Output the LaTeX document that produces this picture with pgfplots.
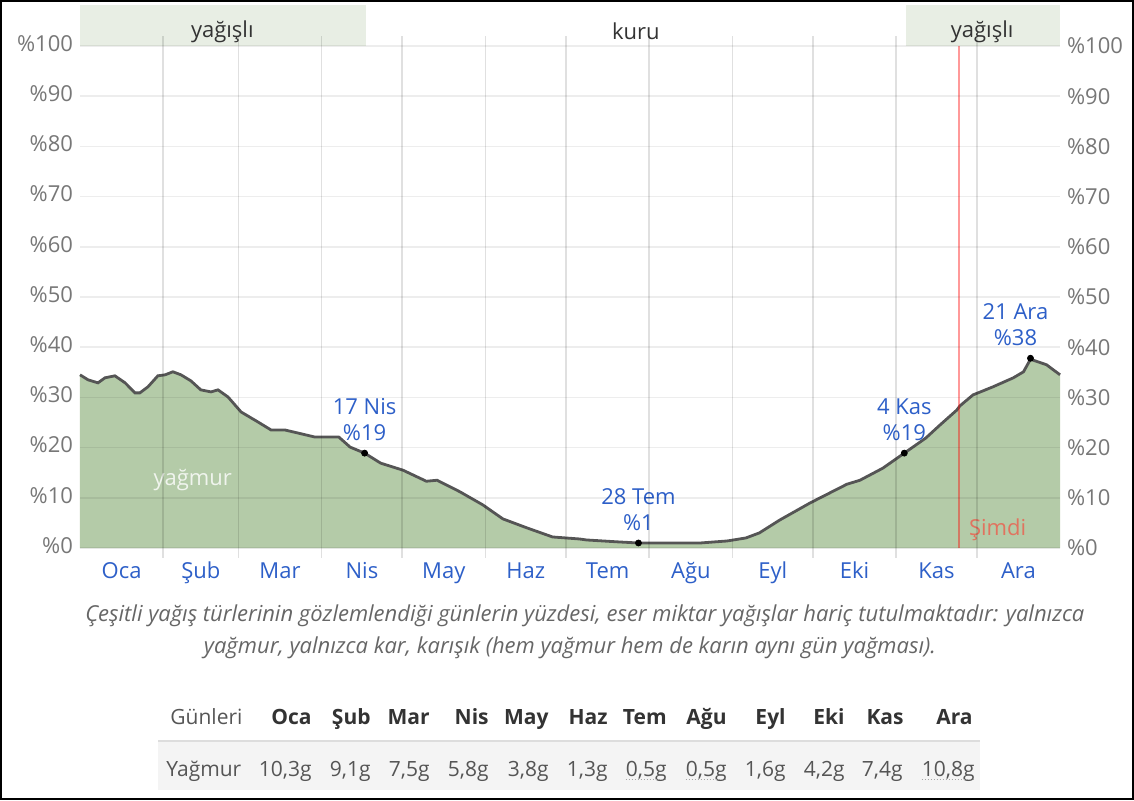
\documentclass[border=0pt]{standalone}
\usepackage{pgfplots}
\pgfplotsset{compat=1.18}
\usepackage{pgfplotstable}
\usepackage{fontspec}
\setmainfont{Open Sans}
\definecolor{tickgray}{RGB}{119,119,119}
\definecolor{monthblue}{RGB}{45,95,200}
\definecolor{areagreen}{RGB}{180,203,168}
\definecolor{bandgreen}{RGB}{232,238,228}
\definecolor{linegray}{RGB}{85,85,85}
\definecolor{nowred}{RGB}{225,115,95}
\definecolor{txtdark}{RGB}{51,51,51}
\definecolor{txtmid}{RGB}{85,85,85}
\definecolor{capgray}{RGB}{102,102,102}
\definecolor{rowgray}{RGB}{244,244,244}
\definecolor{sepgray}{RGB}{221,221,221}

\pgfplotstableread{
day val
0 34.5
3 33.5
6.7 32.9
9.3 33.9
13 34.3
16.8 32.9
20.5 30.9
22.3 30.9
25.3 32.1
29 34.3
31.7 34.5
34.6 35.1
37.6 34.5
41.3 33.3
45 31.5
48.8 31.1
51.4 31.5
55.1 30.1
60 27.1
66.3 25.1
71.2 23.5
76.4 23.5
81.2 22.9
87.5 22.1
91.6 22.1
96.4 22.1
100.6 20.1
106 18.9
112 16.9
120.3 15.5
129 13.3
133 13.5
141.5 11.2
150 8.6
157.5 5.8
166.5 4.0
176 2.2
186 1.8
188.7 1.6
201 1.2
208 1.0
226 1.0
231 1.0
241 1.4
248 2.0
253 3.0
260.7 5.6
272 9.0
285.6 12.7
290.5 13.5
299 15.9
307 18.9
315 21.9
320.3 24.5
326.6 27.5
327.7 28.3
332.6 30.5
340 32.1
347.6 33.9
351.4 35.1
354 37.6
360 36.5
365 34.5
}\raindata

\begin{document}
\begin{tikzpicture}[x=1pt,y=1pt]
\path (0,0) rectangle (567,400);
\draw[line width=1pt] (0.5,0.5) rectangle (566.5,399.5);

\begin{axis}[
  at={(40pt,126pt)}, anchor=south west, scale only axis,
  width=490pt, height=251pt,
  xmin=0, xmax=365, ymin=0, ymax=100,
  clip=false, axis on top,
  axis line style={draw=none},
  xtick={15.5,45,74.5,105,135.5,166,196.5,227.5,258,288.5,319,349.5},
  xticklabels={Oca,Şub,Mar,Nis,May,Haz,Tem,Ağu,Eyl,Eki,Kas,Ara},
  minor xtick={31,59,90,120,151,181,212,243,273,304,334},
  ytick={0,10,...,100},
  yticklabels={\%0,\%10,\%20,\%30,\%40,\%50,\%60,\%70,\%80,\%90,\%100},
  xmajorgrids=false, xminorgrids=true, ymajorgrids=true,
  typeset ticklabels with strut,
  major tick length=0pt, minor tick length=5pt, tick align=outside,
  minor tick style={black,opacity=0.12,line width=0.75pt},
  minor grid style={black,opacity=0.12,line width=0.75pt},
  major grid style={black,opacity=0.07,line width=0.75pt},
  xticklabel style={monthblue,font=\fontsize{11}{13}\selectfont,yshift=-2.5pt},
  yticklabel style={tickgray,font=\fontsize{11}{13}\selectfont},
]
\fill[bandgreen] (axis cs:0,100) rectangle (axis cs:106.7,108.2);
\fill[bandgreen] (axis cs:307.6,100) rectangle (axis cs:365,108.2);
\node[txtdark,font=\fontsize{11}{13}\selectfont] at (axis cs:53,102.9) {yağışlı};
\node[txtdark,font=\fontsize{11}{13}\selectfont] at (axis cs:207,102.9) {kuru};
\node[txtdark,font=\fontsize{11}{13}\selectfont] at (axis cs:336,102.9) {yağışlı};

\addplot[draw=none, fill=areagreen] table[x=day,y=val]{\raindata} \closedcycle;
\addplot[linegray, line width=1.4pt] table[x=day,y=val]{\raindata};
\addplot[only marks, mark=*, mark size=1.5pt, black] coordinates {(106,18.9) (208,1.0) (307,18.9) (354,37.8)};

\draw[red, opacity=0.4, line width=1pt] (axis cs:327.4,0) -- (axis cs:327.4,100);
\node[nowred, anchor=west, font=\fontsize{11}{13}\selectfont] at (axis cs:328.5,3.6) {Şimdi};
\node[white, opacity=0.8, font=\fontsize{11}{13}\selectfont] at (axis cs:42,13.5) {yağmur};

\node[monthblue, align=center, anchor=south, inner sep=0pt, yshift=6pt, font=\fontsize{11}{13}\selectfont] at (axis cs:106,18.9) {17 Nis\\\%19};
\node[monthblue, align=center, anchor=south, inner sep=0pt, yshift=6pt, font=\fontsize{11}{13}\selectfont] at (axis cs:208,1.0) {28 Tem\\\%1};
\node[monthblue, align=center, anchor=south, inner sep=0pt, yshift=6pt, font=\fontsize{11}{13}\selectfont] at (axis cs:307,18.9) {4 Kas\\\%19};
\node[monthblue, align=center, anchor=south, inner sep=0pt, yshift=6pt, xshift=-7.5pt, font=\fontsize{11}{13}\selectfont] at (axis cs:354,37.8) {21 Ara\\\%38};
\end{axis}

\begin{axis}[
  at={(40pt,126pt)}, anchor=south west, scale only axis,
  width=490pt, height=251pt,
  xmin=0, xmax=365, ymin=0, ymax=100,
  axis y line*=right, axis x line=none,
  axis line style={draw=none},
  ytick={0,10,...,100},
  yticklabels={\%0,\%10,\%20,\%30,\%40,\%50,\%60,\%70,\%80,\%90,\%100},
  major tick length=0pt,
  yticklabel style={tickgray,font=\fontsize{11}{13}\selectfont},
]
\end{axis}

% caption
\node[capgray, font=\itshape\fontsize{11}{13}\selectfont] at (292.5,92) {Çeşitli yağış türlerinin gözlemlendiği günlerin yüzdesi, eser miktar yağışlar hariç tutulmaktadır: yalnızca};
\node[capgray, font=\itshape\fontsize{11}{13}\selectfont] at (285,76) {yağmur, yalnızca kar, karışık (hem yağmur hem de karın aynı gün yağması).};

% table
\fill[rowgray] (79,5) rectangle (490,29);
\draw[sepgray, line width=1pt] (79,29.5) -- (490,29.5);
\node[txtmid, anchor=base west, inner sep=0pt, font=\fontsize{10.5}{12}\selectfont] at (85,38) {Günleri};
\node[txtmid, anchor=base west, inner sep=0pt, font=\fontsize{10.5}{12}\selectfont] at (83,12) {Yağmur};
\foreach \m/\xr in {Oca/156,Şub/185.5,Mar/215,Nis/244.5,May/274.5,Haz/304,Tem/333.5,Ağu/363.5,Eyl/393,Eki/422.5,Kas/452,Ara/486.5}{
  \node[txtdark, anchor=base east, inner sep=0pt, font=\bfseries\fontsize{10.5}{12}\selectfont] at (\xr,38) {\m};
}
\foreach \v/\xr/\u in {{10,3g}/156/0,{9,1g}/185.5/0,{7,5g}/215/0,{5,8g}/244.5/0,{3,8g}/274.5/0,{1,3g}/304/0,{0,5g}/333.5/1,{0,5g}/363.5/1,{1,6g}/393/0,{4,2g}/422.5/0,{7,4g}/451.5/0,{10,8g}/487.5/1}{
  \node[txtmid, anchor=base east, inner sep=0pt, font=\fontsize{10.5}{12}\selectfont] (n) at (\xr,12) {\v};
  \ifnum\u=1 \draw[black!35, densely dotted, line width=0.5pt] ([yshift=-1.5pt]n.base west) -- ([yshift=-1.5pt]n.base east); \fi
}
\end{tikzpicture}
\end{document}
